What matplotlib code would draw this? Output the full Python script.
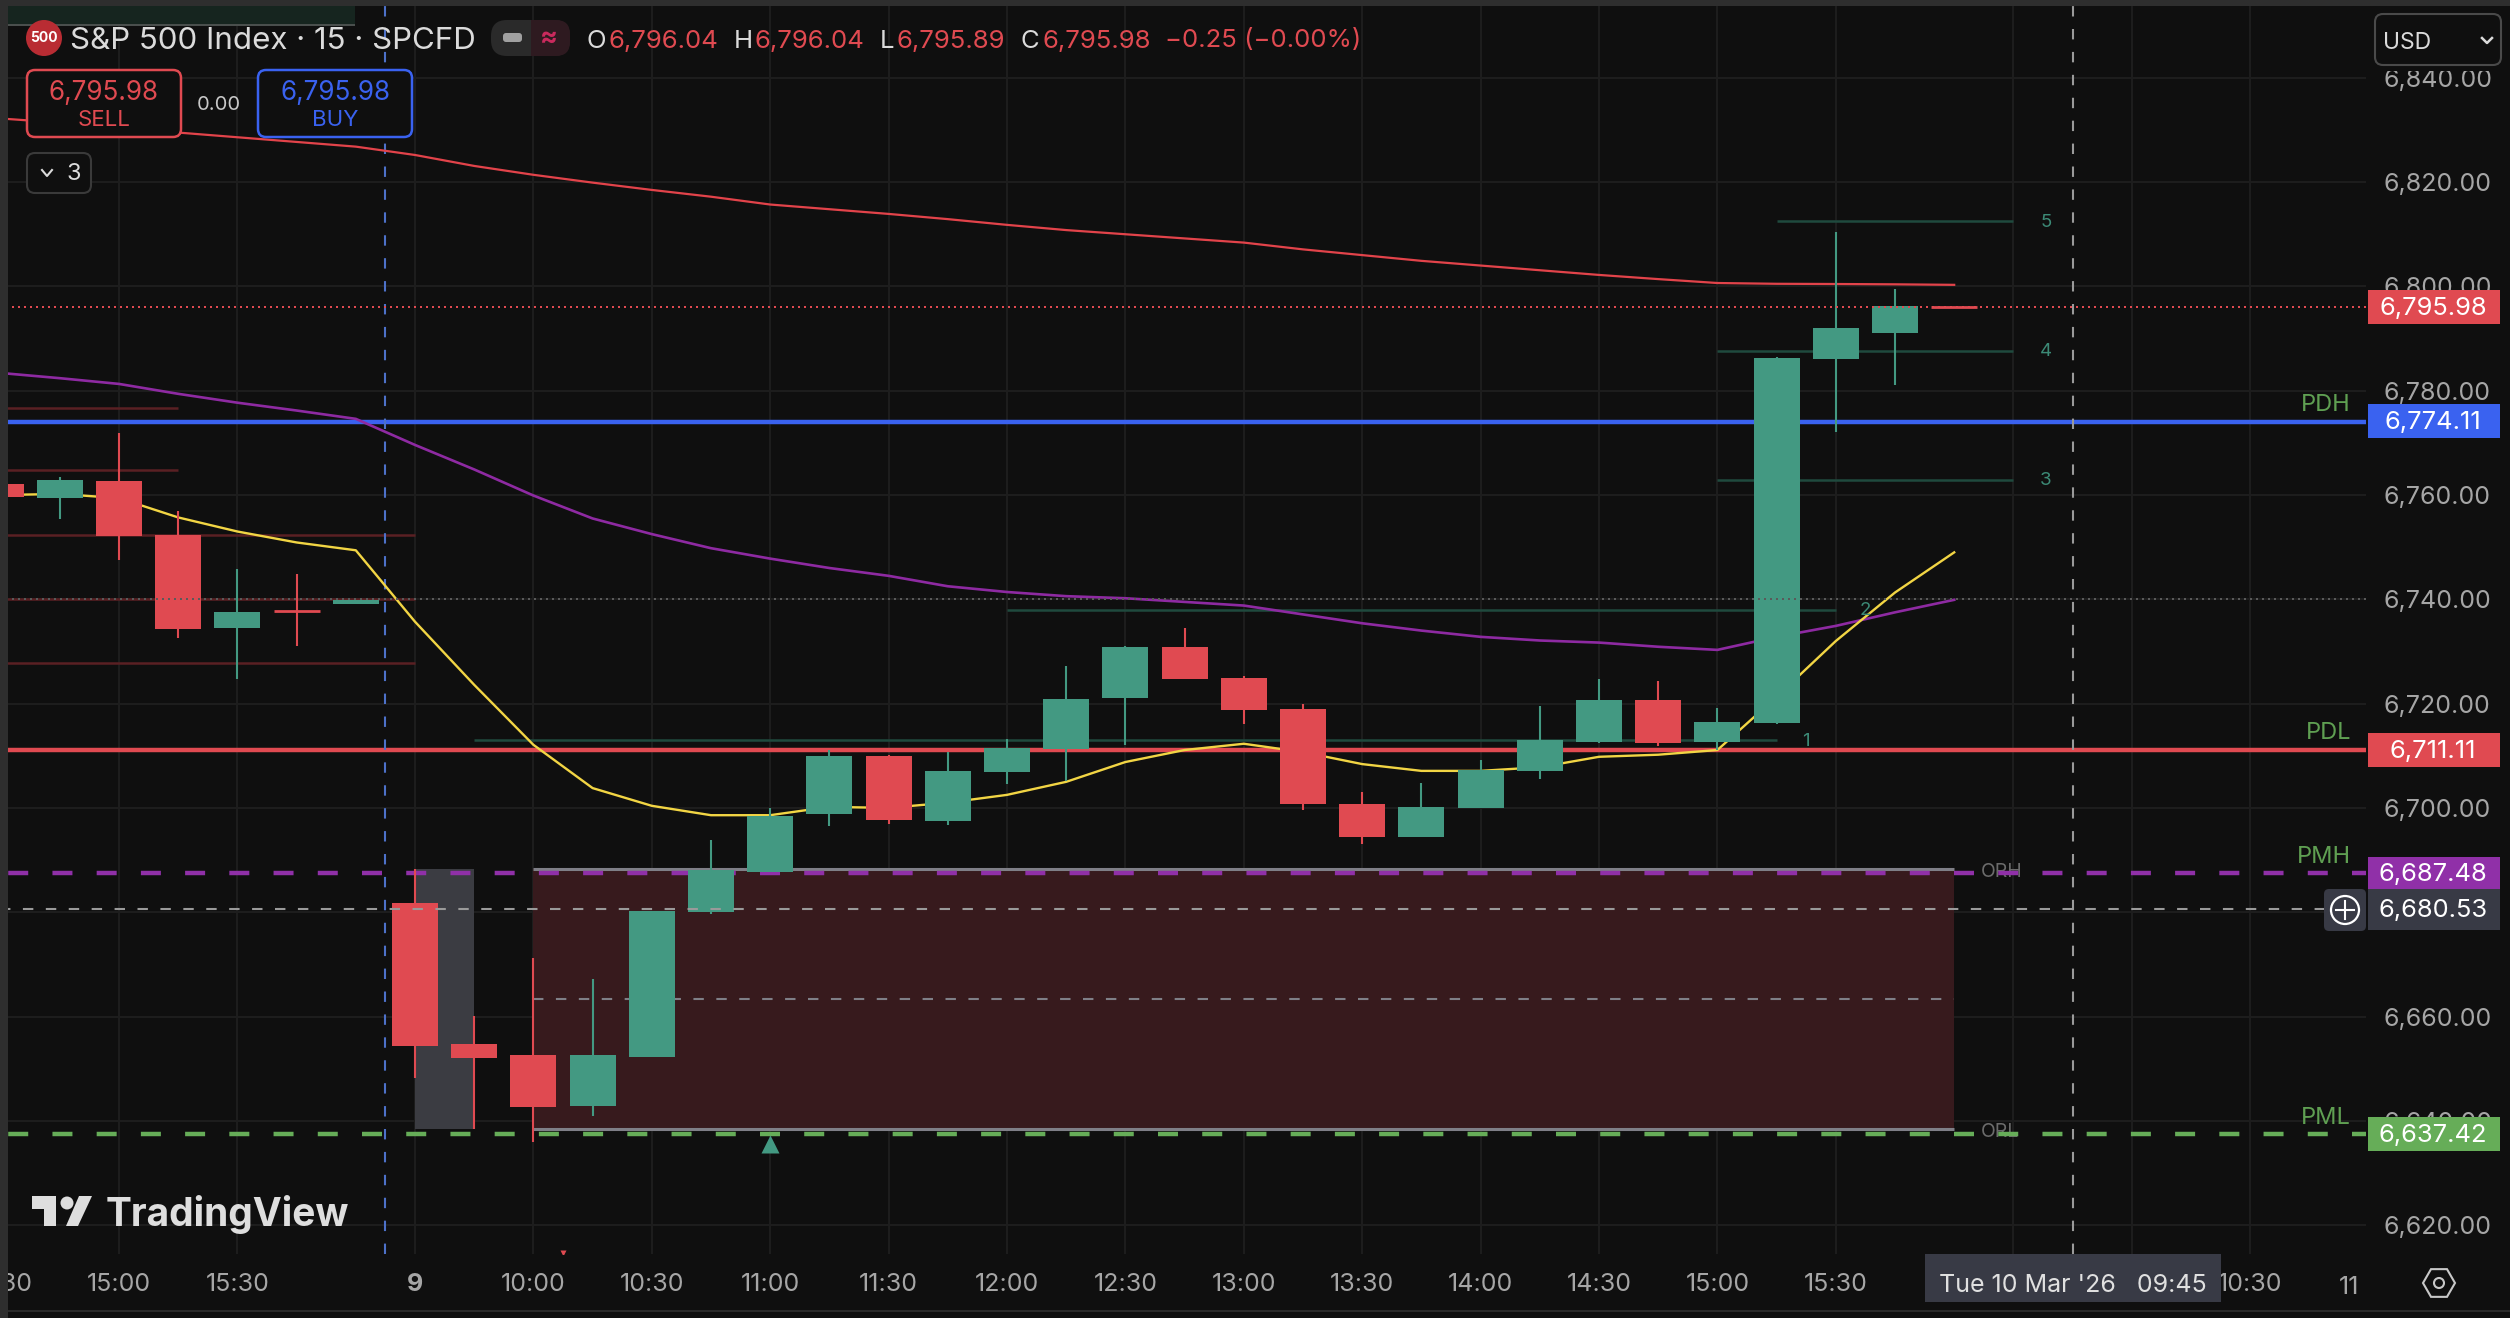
import matplotlib
matplotlib.use('Agg')
import matplotlib.pyplot as plt
from matplotlib.patches import Rectangle, FancyBboxPatch, Circle, Polygon, RegularPolygon

plt.rcParams['font.family'] = ['Inter', 'DejaVu Sans']

# 15 minute bars, 14:30 on the 6th session bar through 09:30-15:45 of the 9th
opens = [6762.1, 6759.5, 6762.7, 6752.3, 6734.5, 6738.1, 6739.1, 6681.8, 6654.7, 6652.6, 6642.8,
         6652.2, 6680.0, 6687.7, 6698.8, 6710.0, 6697.5, 6706.9, 6711.3, 6721.1, 6730.9, 6724.9,
         6719.0, 6700.8, 6694.4, 6700.0, 6707.1, 6712.6, 6720.7, 6712.6, 6716.3, 6786.0, 6791.0, 6796.04]
highs = [6762.1, 6763.5, 6771.9, 6756.9, 6745.8, 6744.8, 6739.9, 6688.3, 6660.1, 6671.2, 6667.2,
         6680.2, 6693.8, 6700.0, 6711.1, 6710.2, 6710.7, 6713.2, 6727.2, 6731.0, 6734.5, 6725.3,
         6719.9, 6703.0, 6704.8, 6709.2, 6719.5, 6724.7, 6724.3, 6719.2, 6786.5, 6810.4, 6799.5, 6796.04]
lows = [6759.6, 6755.4, 6747.5, 6732.6, 6724.7, 6731.0, 6739.1, 6648.2, 6638.4, 6636.0, 6640.9,
        6652.2, 6679.7, 6687.7, 6696.5, 6696.9, 6696.7, 6704.6, 6705.2, 6712.1, 6724.7, 6716.0,
        6699.6, 6693.1, 6694.4, 6700.0, 6705.6, 6712.4, 6711.9, 6711.1, 6716.0, 6772.1, 6781.1, 6795.89]
closes = [6759.6, 6762.9, 6752.2, 6734.3, 6737.6, 6737.8, 6739.9, 6654.4, 6652.0, 6642.6, 6652.6,
          6680.2, 6688.1, 6698.4, 6710.0, 6697.7, 6707.1, 6711.5, 6720.9, 6730.9, 6724.7, 6718.8,
          6700.8, 6694.4, 6700.2, 6707.3, 6713.0, 6720.7, 6712.4, 6716.5, 6786.3, 6792.0, 6796.2, 6795.98]

ema_fast = [6760.0, 6760.2, 6759.4, 6755.7, 6753.0, 6750.9, 6749.4, 6735.7, 6723.6, 6712.1, 6703.8,
            6700.4, 6698.6, 6698.6, 6700.2, 6700.0, 6701.0, 6702.5, 6705.0, 6708.8, 6711.1, 6712.3,
            6710.7, 6708.4, 6707.1, 6707.1, 6707.8, 6709.8, 6710.2, 6711.1, 6721.3, 6732.0, 6741.3, 6749.0]
ema_mid = [6783.4, 6782.4, 6781.3, 6779.4, 6777.7, 6776.2, 6774.6, 6769.6, 6764.9, 6759.9, 6755.5,
           6752.5, 6749.8, 6747.8, 6746.0, 6744.5, 6742.5, 6741.4, 6740.6, 6740.2, 6739.5, 6738.8,
           6737.1, 6735.4, 6734.0, 6732.8, 6732.1, 6731.7, 6730.9, 6730.3, 6732.8, 6734.9, 6737.5, 6739.9]
ema_slow = [6832.2, 6831.4, 6830.4, 6829.5, 6828.6, 6827.7, 6826.8, 6825.2, 6823.1, 6821.4, 6819.9,
            6818.5, 6817.2, 6815.7, 6814.8, 6813.9, 6812.9, 6811.8, 6810.8, 6810.0, 6809.2, 6808.4,
            6807.1, 6806.0, 6804.9, 6804.0, 6803.1, 6802.2, 6801.4, 6800.65, 6800.5, 6800.46, 6800.4, 6800.3]

price_ticks = [6620, 6640, 6660, 6680, 6700, 6720, 6740, 6760, 6780, 6800, 6820, 6840]
time_ticks = [0, 2, 4, 7, 9, 11, 13, 15, 17, 19, 21, 23, 25, 27, 29, 31, 34, 36, 38]
time_labels = ['14:30', '15:00', '15:30', '9', '10:00', '10:30', '11:00', '11:30', '12:00', '12:30',
               '13:00', '13:30', '14:00', '14:30', '15:00', '15:30', '9', '10:00', '10:30']

pdh, pdl, pmh, pml = 6774.11, 6711.11, 6687.48, 6637.42
last_price = 6795.98
cross_price, cross_bar = 6680.53, 35
session_bar = 6.5
orb_high, orb_low, orb_mid = 6688.3, 6638.4, 6663.4
old_levels = [(6776.7, 3), (6764.7, 3), (6752.3, 7), (6740.0, 7), (6727.8, 7)]
targets = [(6713.0, 8, 30, '1', 30.5), (6738.0, 17, 31, '2', 31.5), (6762.9, 29, 34, '3', 34.55),
           (6787.7, 29, 34, '4', 34.55), (6812.5, 30, 34, '5', 34.55)]

BG = '#0f0f0f'
GREEN = '#439982'
RED = '#e04a51'
BLUE = '#3a62f0'
PURPLE = '#9030a8'
LIME = '#66ad58'
GRID = '#1e1e1e'
TXT = '#a6a6a6'
TAG = '#383a45'

fig = plt.figure(figsize=(25.1, 13.18), dpi=100, facecolor=BG)
ax = fig.add_axes([0, 1 - 1254 / 1318, 2366 / 2510, 1254 / 1318], facecolor=BG)
ax.set_xlim(7 - 415 / 59.2, 7 + 1951 / 59.2)
ax.set_ylim(6800 - 967.6 / 5.215, 6800 + 286.4 / 5.215)
for s in ax.spines.values():
    s.set_visible(False)
ax.set_axisbelow(True)
ax.grid(True, color=GRID, lw=1.4)
ax.yaxis.tick_right()
ax.set_yticks(price_ticks)
ax.set_yticklabels([f'{p:,.2f}' for p in price_ticks])
ax.set_xticks(time_ticks)
ax.set_xticklabels(time_labels)
ax.tick_params(length=0, colors=TXT, labelsize=18)
ax.tick_params(axis='y', pad=12.5)
ax.tick_params(axis='x', pad=14)
for lab, t in zip(ax.get_xticklabels(), time_labels):
    if t == '9':
        lab.set_fontweight('bold')


def tx(px):
    return px / 2366


# opening range boxes
ax.add_patch(Rectangle((7, orb_low), 1, orb_high - orb_low, fc='#3b3c42', ec='none', zorder=1))
ax.add_patch(Rectangle((9, orb_low), 24, orb_high - orb_low, fc='#371a1d', ec='none', zorder=1))
ax.hlines([orb_high, orb_low], 9, 33, color='#7f7f87', lw=2.2, zorder=1.2)
ax.hlines(orb_mid, 9, 33, color='#7f7f87', lw=1.5, linestyles=(0, (5, 6)), zorder=1.2)

for lvl, end in old_levels:
    ax.hlines(lvl, ax.get_xlim()[0], end, color='#5a2023', lw=1.8, zorder=1.3)
for lvl, a, b, name, lab_x in targets:
    ax.hlines(lvl, a, b, color='#1f4a3e', lw=1.8, zorder=1.3)
    ax.text(lab_x, lvl - 0.2, name, color='#3c8a76', fontsize=13.5, ha='center', va='center', zorder=3.5)

ax.text(33.45, orb_high - 0.6, 'ORH', color='#6b6b6b', fontsize=14, va='center', zorder=1.3)
ax.text(33.45, orb_low - 0.6, 'ORL', color='#6b6b6b', fontsize=14, va='center', zorder=1.3)

# key levels
ax.axhline(pdh - 0.1, color=BLUE, lw=3.2, zorder=1.5)
ax.axhline(pdl, color=RED, lw=3.2, zorder=1.5)
ax.axhline(pmh, color=PURPLE, lw=3.2, ls=(8.1, (4.5, 5.45)), zorder=1.5)
ax.axhline(pml, color=LIME, lw=3.2, ls=(8.1, (4.5, 5.45)), zorder=1.5)
ax.axvline(session_bar, color='#4d71c9', lw=1.5, ls=(0, (5, 6)), zorder=1.5)

bars = range(len(opens))
ax.plot(bars, ema_slow, color='#e2434a', lw=1.6, zorder=2)
ax.plot(bars, ema_mid, color='#8e2aa2', lw=1.9, zorder=2)
ax.plot(bars, ema_fast, color='#f2d544', lw=1.7, zorder=2)

# candles
colors = [GREEN if c >= o else RED for o, c in zip(opens, closes)]
ax.vlines(bars, lows, highs, color=colors, lw=1.5, zorder=3)
for i, (o, c) in enumerate(zip(opens, closes)):
    if abs(o - c) < 0.7:
        ax.hlines(c, i - 0.39, i + 0.39, color=colors[i], lw=2, zorder=3.1)
    else:
        ax.bar(i, abs(c - o), bottom=min(o, c), width=0.775, color=colors[i], zorder=3.1)

ax.plot([13], [6635.5], marker='^', ms=13, color=GREEN, mec='none', zorder=3)
ax.plot([9.5], [6614.6], marker='v', ms=5, color=RED, mec='none', zorder=3)

# price lines
ax.axhline(last_price, color=RED, lw=1.44, ls=(0, (1, 2)), zorder=3.2)
ax.axhline(6740, color='#5a5a5a', lw=1.44, ls=(0, (1, 2)), zorder=3.2)
ax.hlines(cross_price, ax.get_xlim()[0], 7 + (2324 - 415) / 59.2, color='#9a9a9a', lw=1.5,
          linestyles=(0, (5, 6)), zorder=4)
ax.axvline(cross_bar, color='#9a9a9a', lw=1.5, ls=(0, (5, 6)), zorder=4)

# price axis tags
yt = ax.get_yaxis_transform()
for price, col, h in [(last_price, RED, 6.5), (pdh, BLUE, 6.5), (pdl, RED, 6.5),
                      (pmh, PURPLE, 6.3), (cross_price, TAG, 8.0), (pml, LIME, 6.5)]:
    ax.add_patch(Rectangle((tx(2368), price - h / 2), tx(132), h, fc=col, ec='none', transform=yt,
                           clip_on=False, zorder=5))
    ax.text(tx(2433), price - 0.2, f'{price:,.2f}', color='#ffffff', fontsize=18.4, ha='center', va='center',
            transform=yt, clip_on=False, zorder=6)

for name, price, px_off in [('PDH', pdh, 3.2), ('PDL', pdl, 3.3), ('PMH', pmh, 3.1), ('PML', pml, 3.1)]:
    ax.text(tx(2351), price + px_off, name, color='#5f9f52', fontsize=17, ha='right', va='center',
            transform=yt, zorder=6)

# ui layer in pixels
ui = fig.add_axes([0, 0, 1, 1], zorder=3)
ui.set_xlim(0, 2510)
ui.set_ylim(1318, 0)
ui.axis('off')

ui.add_patch(Rectangle((0, 0), 2510, 6, fc='#2e2e2e', ec='none'))
ui.add_patch(Rectangle((0, 0), 8, 1318, fc='#2e2e2e', ec='none'))
ui.add_patch(Rectangle((8, 1310), 2502, 2, fc='#2a2a2a', ec='none'))
ui.add_patch(Rectangle((8, 6), 347, 18, fc='#16251f', ec='none'))
ui.add_patch(Rectangle((8, 23.5), 347, 2, fc='#4a4f4d', ec='none'))


def rbox(x0, y0, x1, y1, fc, ec, lw=1.5, r=8):
    ui.add_patch(FancyBboxPatch((x0 + r, y0 + r), x1 - x0 - 2 * r, y1 - y0 - 2 * r,
                                boxstyle=f'round,pad={r},rounding_size={r}', fc=fc, ec=ec, lw=lw))


# header
ui.add_patch(Circle((44, 38), 18, fc='#b92c33', ec='none'))
ui.text(44, 38.5, '500', color='white', fontsize=10, fontweight='bold', ha='center', va='center')
ui.text(70, 41, 'S&P 500 Index · 15 · SPCFD', color='#dbdbdb', fontsize=22.5, va='center')
rbox(491, 20, 570, 56, '#2a2a2a', 'none', r=16)
ui.add_patch(Rectangle((531, 20), 24, 36, fc='#2e1a20', ec='none'))
rbox(540, 20, 570, 56, '#2e1a20', 'none', r=14)
rbox(503, 33, 522, 42, '#a0a0a0', 'none', r=3)
ui.text(549, 38, '≈', color='#c92a5d', fontsize=19, ha='center', va='center', fontweight='bold')
for x, s, col in [(587, 'O', '#dbdbdb'), (609, '6,796.04', RED), (734, 'H', '#dbdbdb'), (755, '6,796.04', RED),
                  (880, 'L', '#dbdbdb'), (896, '6,795.89', RED), (1021, 'C', '#dbdbdb'), (1042, '6,795.98', RED),
                  (1165, '−0.25 (−0.00%)', RED)]:
    ui.text(x, 41, s, color=col, fontsize=18.5, va='center')

# order buttons
rbox(27, 70, 181, 137, BG, RED, lw=1.8)
ui.text(104, 93, '6,795.98', color=RED, fontsize=18.8, ha='center', va='center')
ui.text(104, 119.5, 'SELL', color=RED, fontsize=16, ha='center', va='center')
ui.text(219, 105, '0.00', color='#c8c8c8', fontsize=14.5, ha='center', va='center')
rbox(258, 70, 412, 137, BG, BLUE, lw=1.8)
ui.text(335, 93, '6,795.98', color=BLUE, fontsize=18.8, ha='center', va='center')
ui.text(335, 119.5, 'BUY', color=BLUE, fontsize=16, ha='center', va='center')

rbox(27, 153, 91, 193, BG, '#3a3a3a', lw=1.5)
ui.plot([42, 47, 52], [170, 176, 170], color='#dbdbdb', lw=1.5)
ui.text(74, 174, '3', color='#dbdbdb', fontsize=17, ha='center', va='center')

# currency selector sits on its own patch over the top of the scale
ui.add_patch(Rectangle((2368, 6), 142, 65, fc=BG, ec='none'))
rbox(2375, 14, 2501, 65, BG, '#4a4a4a', lw=1.5)
ui.text(2383, 43, 'USD', color='#dbdbdb', fontsize=16.5, va='center')
ui.plot([2482, 2487, 2492], [38, 43, 38], color='#dbdbdb', lw=1.8)

# crosshair bits
rbox(2324, 889, 2366, 931, TAG, 'none', r=5)
ui.add_patch(Circle((2345, 910), 14, fc='none', ec='white', lw=1.6))
ui.plot([2336, 2354], [910, 910], color='white', lw=1.5)
ui.plot([2345, 2345], [901, 919], color='white', lw=1.5)
ui.add_patch(Rectangle((1925, 1254), 296, 48, fc=TAG, ec='none'))
ui.text(2073, 1285, "Tue 10 Mar '26   09:45", color='#e0e0e0', fontsize=18, ha='center', va='center')
ui.text(2349, 1287, '11', color=TXT, fontsize=18, ha='center', va='center')
ui.add_patch(RegularPolygon((2439, 1283), 6, radius=16, orientation=0.5236, fc='none', ec='#c8c8c8', lw=1.5))
ui.add_patch(Circle((2439, 1283), 5, fc='none', ec='#c8c8c8', lw=1.5))

# logo
logo = '#dedede'
ui.add_patch(Polygon([(32, 1196), (56, 1196), (56, 1226), (44, 1226), (44, 1209), (32, 1209)], fc=logo, ec='none'))
ui.add_patch(Circle((67, 1203), 6.5, fc=logo, ec='none'))
ui.add_patch(Polygon([(79, 1196), (92, 1196), (78, 1226), (66, 1226)], fc=logo, ec='none'))
ui.text(106, 1214, 'TradingView', color=logo, fontsize=28, fontweight='bold', va='center')

fig.savefig('out.png', dpi=100, facecolor=BG)
